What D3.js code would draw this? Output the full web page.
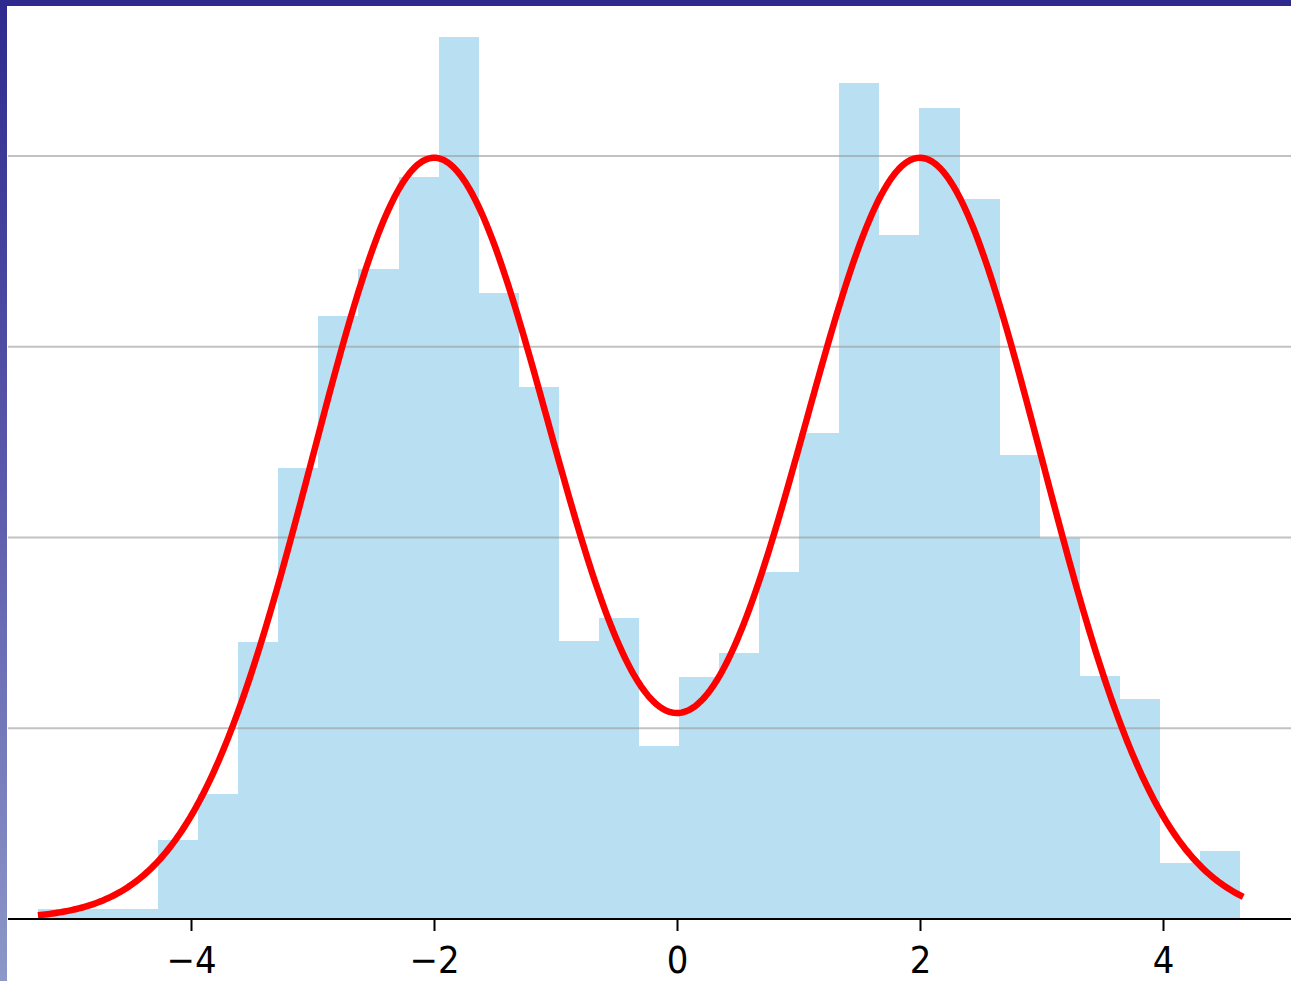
<!DOCTYPE html>
<html>
<head>
<meta charset="utf-8">
<script src="https://cdn.jsdelivr.net/npm/d3@7/dist/d3.min.js"></script>
<style>
  html, body { margin: 0; padding: 0; background: #fff; }
  svg { display: block; }
</style>
</head>
<body>
<svg id="chart" width="1291" height="981"></svg>
<script>
// Histogram: 30 equal bins between the sample minimum and maximum (density scale)
const binRange = [-5.26, 4.634];
const binDensity = [
  0.0025, 0.0025, 0.0025, 0.0207, 0.0328, 0.0727, 0.1182, 0.1581, 0.1703, 0.1946,
  0.2311, 0.1640, 0.1395, 0.0729, 0.0788, 0.0453, 0.0635, 0.0696, 0.0909, 0.1275,
  0.2191, 0.1794, 0.2127, 0.1888, 0.1216, 0.0999, 0.0637, 0.0576, 0.0148, 0.0178
];

// Two-component Gaussian mixture drawn over the histogram
const mixMeans = [-2, 2];
const mixSds = [1, 1];
const mixWeights = [0.5, 0.5];
const curveRange = [-5.26, 4.66];

const xTicks = [-4, -2, 0, 2, 4];
const yGrid = [0.05, 0.10, 0.15, 0.20];

const W = 1291, H = 981;
const frameLeft = 7, frameTop = 6;
const baseY = 919;

const svg = d3.select("#chart");

// frame: gradient strip on the left, solid strip on top
const defs = svg.append("defs");
const grad = defs.append("linearGradient")
  .attr("id", "leftEdge").attr("x1", 0).attr("y1", 0).attr("x2", 0).attr("y2", 1);
grad.append("stop").attr("offset", "0%").attr("stop-color", "#2e2a8e");
grad.append("stop").attr("offset", "50%").attr("stop-color", "#5c5aac");
grad.append("stop").attr("offset", "100%").attr("stop-color", "#8c98c8");

svg.append("rect").attr("x", 0).attr("y", 0).attr("width", W).attr("height", H).attr("fill", "#fff");
svg.append("rect").attr("x", 0).attr("y", 0).attr("width", frameLeft).attr("height", H).attr("fill", "url(#leftEdge)");
svg.append("rect").attr("x", 0).attr("y", 0).attr("width", W).attr("height", frameTop).attr("fill", "#2e2a8e");

const x = d3.scaleLinear().domain([-4, 4]).range([191, 1163]);
const y = d3.scaleLinear().domain([0, 0.2]).range([baseY, 156]);

// bins
const nBins = binDensity.length;
const binW = (binRange[1] - binRange[0]) / nBins;
const bins = binDensity.map((d, i) => ({
  x0: binRange[0] + i * binW,
  x1: binRange[0] + (i + 1) * binW,
  d
}));

svg.append("g")
  .attr("shape-rendering", "crispEdges")
  .selectAll("rect")
  .data(bins)
  .join("rect")
  .attr("x", b => Math.round(x(b.x0)))
  .attr("width", b => Math.round(x(b.x1)) - Math.round(x(b.x0)))
  .attr("y", b => y(b.d))
  .attr("height", b => y(0) - y(b.d))
  .attr("fill", "#b8e0f2");

// horizontal grid
svg.append("g")
  .selectAll("line")
  .data(yGrid)
  .join("line")
  .attr("x1", frameLeft + 1).attr("x2", W)
  .attr("y1", d => y(d)).attr("y2", d => y(d))
  .attr("stroke", "#9a9a9a")
  .attr("stroke-opacity", 0.6)
  .attr("stroke-width", 2);

// mixture density curve
const pdf = v => d3.sum(mixMeans, (m, k) =>
  mixWeights[k] * Math.exp(-0.5 * ((v - m) / mixSds[k]) ** 2) / (mixSds[k] * Math.sqrt(2 * Math.PI)));
const grid = d3.range(0, 501).map(i => curveRange[0] + (curveRange[1] - curveRange[0]) * i / 500);

svg.append("path")
  .datum(grid)
  .attr("fill", "none")
  .attr("stroke", "#ff0000")
  .attr("stroke-width", 6.5)
  .attr("stroke-linejoin", "round")
  .attr("d", d3.line().x(v => x(v)).y(v => y(pdf(v))));

// x axis
const axis = d3.axisBottom(x)
  .tickValues(xTicks)
  .tickSize(12)
  .tickSizeOuter(0)
  .tickFormat(d => d < 0 ? "\u2212" + Math.abs(d) : String(d));

const gx = svg.append("g").attr("transform", `translate(0,${baseY})`).call(axis);
gx.select(".domain").remove();
gx.selectAll(".tick line").attr("stroke", "#000").attr("stroke-width", 2);
gx.selectAll(".tick text")
  .attr("fill", "#000")
  .attr("font-family", "DejaVu Sans, sans-serif")
  .attr("font-size", 34)
  .attr("y", 0)
  .attr("dy", 0)
  .attr("transform", "translate(0,54) scale(1,1.12)");

svg.append("line")
  .attr("x1", frameLeft + 1).attr("x2", W)
  .attr("y1", baseY).attr("y2", baseY)
  .attr("stroke", "#000").attr("stroke-width", 2);
</script>
</body>
</html>
